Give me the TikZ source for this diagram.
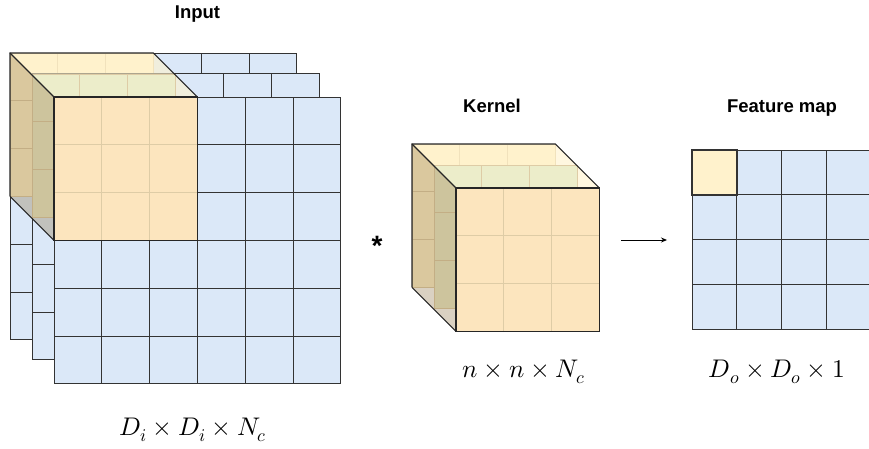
\documentclass[tikz,border=0pt]{standalone}
\usepackage{fontspec}
\usepackage{unicode-math}
\setsansfont{Liberation Sans}
\usetikzlibrary{arrows.meta}
\definecolor{cellblue}{RGB}{219,232,248}
\definecolor{kyellow}{RGB}{255,242,204}
\definecolor{kgreen}{RGB}{236,237,202}
\definecolor{korange}{RGB}{252,229,190}
\definecolor{kline}{RGB}{222,204,166}
\definecolor{kshade}{RGB}{140,112,64}
\tikzset{
  bluecell/.style={draw=black!80, fill=cellblue, line width=0.9pt},
  kcell/.style={draw=kline, line width=0.9pt},
  cubeedge/.style={draw=black!85, line width=1.1pt},
  title/.style={font=\sffamily\bfseries\fontsize{18.5}{20}\selectfont, anchor=base},
  dims/.style={font=\fontsize{25.5}{28}\selectfont, anchor=base},
  klayer/.pic={\foreach \i in {0,1,2} \foreach \j in {0,1,2}
    \draw[kcell, fill=#1] (\i*47.8,\j*47.8) rectangle ++(47.8,47.8);},
  ktop/.pic={\fill[kyellow, fill opacity=0.6] (0,0) -- (143.4,0) -- (187.4,44) -- (44,44) -- cycle;},
  kside/.pic={\fill[kshade, fill opacity=0.32] (0,0) -- (44,44) -- (44,187.4) -- (0,143.4) -- cycle;},
  kedges/.pic={
    \draw[cubeedge] (0,143.4) -- (0,0) -- (143.4,0) -- (187.4,44);
    \draw[cubeedge] (0,0) -- (44,44);
    \draw[cubeedge] (0,143.4) -- (44,187.4);
    \draw[cubeedge] (44,44) rectangle (187.4,187.4);}
}
\begin{document}
\begin{tikzpicture}[x=1pt, y=-1pt, >={Stealth[length=6pt,width=5pt]}]
\useasboundingbox (0,0) rectangle (869,448);
% input volume with the kernel on it
\foreach \i in {0,...,5} \foreach \j in {0,...,5}
  \draw[bluecell] (10+\i*47.8,53+\j*47.8) rectangle ++(47.8,47.8);
\pic at (10,53) {klayer=kyellow};
\foreach \i in {0,...,5} \foreach \j in {0,...,5}
  \draw[bluecell] (32.5+\i*47.8,73+\j*47.8) rectangle ++(47.8,47.8);
\pic at (10,53) {ktop};
\pic at (32,74) {klayer=kgreen};
\foreach \i in {0,...,5} \foreach \j in {0,...,5}
  \draw[bluecell] (54+\i*47.8,97+\j*47.8) rectangle ++(47.8,47.8);
\pic at (54,97) {klayer=korange};
\pic at (10,53) {kside};
\pic at (10,53) {kedges};
% kernel
\pic at (412,144) {klayer=kyellow};
\pic at (412,144) {ktop};
\pic at (434,165) {klayer=kgreen};
\pic at (456,188) {klayer=korange};
\pic at (412,144) {kside};
\pic at (412,144) {kedges};
% feature map
\begin{scope}
\clip (0,0) rectangle (869,448);
\foreach \i in {0,...,3} \foreach \j in {0,...,3}
  \draw[bluecell] (692+\i*44.8,150+\j*44.8) rectangle ++(44.8,44.8);
\draw[bluecell, fill=kyellow, line width=2pt] (692,150) rectangle ++(44.8,44.8);
\end{scope}
\node[title] (inputtitle) at (197.5,18) {Input};
\node[title] (kerneltitle) at (492,112) {Kernel};
\node[title] (maptitle) at (782,112) {Feature map};
\node[dims] (inputdims) at (193,435) {$D_i\times D_i\times N_c$};
\node[dims] (kerneldims) at (524,377) {$n\times n\times N_c$};
\node[dims] (mapdims) at (777,377) {$D_o\times D_o\times 1$};
\node[font=\sffamily\bfseries\fontsize{28}{30}\selectfont, anchor=north, inner sep=0pt] (conv) at (377,236.5) {*};
\coordinate (arrowstart) at (621,240);
\coordinate (arrowend) at (667,240);
\draw[->, line width=0.9pt] (arrowstart) -- (arrowend);
\end{tikzpicture}
\end{document}
